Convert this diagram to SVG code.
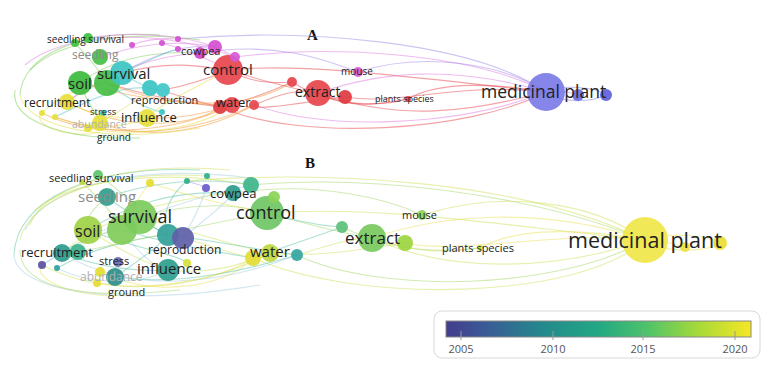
<svg xmlns="http://www.w3.org/2000/svg" width="774" height="373" viewBox="0 0 774 373">
<defs>
<linearGradient id="vir" x1="0" x2="1" y1="0" y2="0">
<stop offset="0" stop-color="#433c8c"/>
<stop offset="0.12" stop-color="#3b5896"/>
<stop offset="0.32" stop-color="#238a8c"/>
<stop offset="0.5" stop-color="#22a884"/>
<stop offset="0.66" stop-color="#4fc36a"/>
<stop offset="0.82" stop-color="#a3d93a"/>
<stop offset="1" stop-color="#f7e723"/>
</linearGradient>
</defs>
<style>
text{font-family:"Open Sans","Noto Sans","DejaVu Sans",sans-serif;fill:#222}
.t{font-family:"Liberation Serif","Times New Roman",serif;font-weight:bold;font-size:15px;fill:#111}
.g{fill:#8a8a8a}
.lg{fill:#b0b0b0}
.e path{fill:none;stroke-width:1.1;opacity:0.5}
.r{stroke:#e8484f}.p{stroke:#e079e0}.v{stroke:#a48ae8}.o{stroke:#f39a3a}.y{stroke:#e5e04a}.gr{stroke:#7fd05a}.c{stroke:#55c8c0}.b{stroke:#7b7be8}
.yg{stroke:#cfe25a}.lm{stroke:#a6d86a}.tl{stroke:#5cc6a8}.lb{stroke:#a9cfe6}.yy{stroke:#ece25a}
circle{opacity:0.92}
.lab{font-size:11px;fill:#555}
</style>
<rect width="774" height="373" fill="#fff"/>
<text class="t" x="307" y="40">A</text>
<text class="t" x="305" y="168">B</text>
<g id="connectors-A" class="e">
<path class="v" d="M178,39 C300,28 470,40 546,92"/>
<path class="p" d="M235,57 C330,45 470,52 546,92"/>
<path class="v" d="M358,72 C420,52 500,62 546,92"/>
<path class="r" d="M228,70 C300,62 420,78 546,92"/>
<path class="p" d="M318,93 C380,72 450,64 546,92"/>
<path class="r" d="M318,93 C400,122 470,112 546,92"/>
<path class="r" d="M345,97 C400,106 450,82 546,92"/>
<path class="p" d="M254,105 C330,132 460,126 546,92"/>
<path class="r" d="M220,107 C300,142 470,132 546,92"/>
<path class="r" d="M408,99 C440,80 500,84 546,92"/>
<path class="r" d="M292,82 C340,112 390,104 408,99"/>
<path class="r" d="M318,93 C350,110 380,104 408,99"/>
<path class="v" d="M200,53 C280,40 330,62 358,72"/>
<path class="r" d="M228,70 C280,86 300,90 318,93"/>
<path class="r" d="M254,105 C280,94 300,88 318,93"/>
<path class="r" d="M232,105 C270,112 310,100 345,97"/>
<path class="r" d="M228,70 C250,82 270,84 292,82"/>
<path class="r" d="M220,107 C250,100 270,92 292,82"/>
<path class="b" d="M546,92 C562,84 596,87 606,95"/>
<path class="b" d="M546,92 C562,104 592,102 606,95"/>
<path class="b" d="M546,92 C560,90 570,92 578,95"/>
<path class="o" d="M42,113 C100,142 180,130 232,105"/>
<path class="o" d="M67,102 C130,135 200,124 220,107"/>
<path class="o" d="M100,123 C150,142 210,130 254,105"/>
<path class="o" d="M147,118 C180,120 210,112 232,105"/>
<path class="r" d="M122,73 C170,60 200,66 228,70"/>
<path class="r" d="M107,83 C160,100 200,104 220,107"/>
<path class="y" d="M42,113 C30,125 70,140 100,132"/>
<path class="y" d="M55,117 C80,128 120,130 147,118"/>
<path class="y" d="M67,102 C90,115 120,120 147,118"/>
<path class="y" d="M20,95 C25,125 100,145 200,128"/>
<path class="gr" d="M20,95 C22,55 80,30 160,35"/>
<path class="gr" d="M75,43 C90,60 100,70 107,83"/>
<path class="gr" d="M80,83 C110,60 150,50 200,53"/>
<path class="gr" d="M30,70 C60,40 130,30 200,40"/>
<path class="c" d="M122,73 C135,82 145,86 150,88"/>
<path class="c" d="M107,83 C130,100 150,110 162,112"/>
<path class="p" d="M132,45 C150,38 165,38 178,39"/>
<path class="p" d="M100,57 C150,40 190,42 215,47"/>
<path class="p" d="M162,43 C190,50 210,60 228,70"/>
<path class="p" d="M88,38 C140,30 200,35 235,57"/>
<path class="v" d="M122,73 C170,45 200,45 215,47"/>
<path class="r" d="M150,88 C180,95 200,103 220,107"/>
<path class="o" d="M80,83 C140,100 190,105 232,105"/>
<path class="gr" d="M67,102 C80,92 90,86 107,83"/>
<path class="c" d="M55,117 C90,100 120,85 150,88"/>
<path class="y" d="M100,123 C120,110 140,100 150,88"/>
<path class="gr" d="M80,83 C90,110 100,118 100,123"/>
<path class="y" d="M42,113 C60,95 85,85 107,83"/>
<path class="o" d="M55,117 C120,140 190,135 254,105"/>
<path class="p" d="M67,102 C110,70 160,55 200,53"/>
<path class="c" d="M122,73 C150,60 170,50 178,49"/>
<path class="r" d="M163,90 C190,85 210,78 228,70"/>
<path class="y" d="M147,118 C160,105 180,95 228,70"/>
<path class="gr" d="M15,90 C10,120 60,140 140,138"/>
<path class="p" d="M25,65 C60,35 150,25 235,57"/>
<path class="o" d="M107,83 C170,110 250,110 292,82"/>
<path class="y" d="M88,128 C130,138 200,130 232,105"/>
</g>
<g id="connectors-B" class="e">
<path class="yg" d="M187,181 C330,170 520,180 645,240"/>
<path class="lm" d="M251,185 C360,175 520,190 645,240"/>
<path class="yg" d="M422,215 C500,190 590,200 645,240"/>
<path class="yg" d="M267,213 C380,205 500,225 645,240"/>
<path class="yy" d="M372,238 C440,215 540,205 645,240"/>
<path class="yg" d="M372,238 C450,275 560,270 645,240"/>
<path class="yy" d="M405,243 C460,255 560,230 645,240"/>
<path class="lm" d="M297,255 C380,295 560,290 645,240"/>
<path class="yg" d="M253,258 C360,305 580,300 645,240"/>
<path class="yy" d="M480,248 C520,225 590,230 645,240"/>
<path class="lm" d="M342,227 C400,255 450,252 480,248"/>
<path class="yg" d="M372,238 C420,255 450,252 480,248"/>
<path class="lm" d="M233,193 C320,180 390,200 422,215"/>
<path class="lm" d="M267,213 C310,225 340,233 372,238"/>
<path class="yg" d="M297,255 C330,245 350,238 372,238"/>
<path class="yg" d="M270,253 C320,258 370,248 405,243"/>
<path class="tl" d="M267,213 C300,222 320,226 342,227"/>
<path class="tl" d="M253,258 C290,245 320,235 342,227"/>
<path class="yy" d="M645,240 C665,232 708,235 720,243"/>
<path class="yy" d="M645,240 C665,254 706,252 720,243"/>
<path class="yy" d="M645,240 C660,240 675,244 685,247"/>
<path class="yg" d="M42,265 C110,300 200,290 270,253"/>
<path class="lb" d="M62,253 C130,295 220,285 297,255"/>
<path class="yy" d="M100,272 C160,300 230,285 253,258"/>
<path class="yg" d="M168,270 C210,275 240,265 270,253"/>
<path class="lm" d="M140,217 C200,200 240,205 267,213"/>
<path class="tl" d="M122,230 C190,250 240,255 253,258"/>
<path class="yy" d="M42,265 C30,280 80,300 130,295"/>
<path class="lb" d="M57,268 C90,285 140,285 168,270"/>
<path class="tl" d="M62,253 C100,268 140,272 168,270"/>
<path class="lb" d="M14,255 C16,292 120,308 260,285"/>
<path class="tl" d="M14,255 C16,200 90,165 200,170"/>
<path class="lb" d="M25,230 C50,180 150,165 250,178"/>
<path class="lm" d="M82,182 C100,200 115,215 122,230"/>
<path class="tl" d="M88,230 C130,205 170,190 233,193"/>
<path class="yg" d="M35,210 C70,180 160,168 252,185"/>
<path class="tl" d="M140,217 C150,225 160,232 168,235"/>
<path class="lb" d="M122,230 C140,255 155,268 168,270"/>
<path class="v" d="M186,181 C200,185 205,186 206,188"/>
<path class="tl" d="M107,197 C160,180 210,178 251,185"/>
<path class="lb" d="M183,238 C210,215 230,200 233,193"/>
<path class="yy" d="M150,183 C200,200 240,208 267,213"/>
<path class="yg" d="M183,238 C210,245 235,255 253,258"/>
<path class="tl" d="M88,230 C140,250 180,255 187,263"/>
<path class="lm" d="M62,253 C80,240 100,233 122,230"/>
<path class="tl" d="M57,268 C90,250 130,238 168,235"/>
<path class="yg" d="M20,240 C30,195 110,170 207,176"/>
<path class="lm" d="M20,250 C20,290 90,300 180,290"/>
<path class="tl" d="M107,197 C130,215 155,228 168,235"/>
<path class="yg" d="M88,230 C120,250 150,265 168,270"/>
<path class="lb" d="M42,265 C80,240 110,225 140,217"/>
<path class="tl" d="M115,277 C140,260 160,245 168,235"/>
<path class="lm" d="M98,175 C120,190 135,205 140,217"/>
<path class="yy" d="M150,183 C140,195 128,215 122,230"/>
<path class="tl" d="M187,181 C170,195 160,215 168,235"/>
<path class="lb" d="M206,188 C200,210 190,225 183,238"/>
<path class="yg" d="M62,253 C100,220 160,200 233,193"/>
<path class="lm" d="M78,252 C140,240 200,225 267,213"/>
<path class="tl" d="M115,277 C170,285 230,275 297,255"/>
<path class="yy" d="M97,283 C150,292 220,280 253,258"/>
<path class="lb" d="M42,265 C100,230 180,200 251,185"/>
<path class="yg" d="M140,217 C200,235 250,250 270,253"/>
<path class="tl" d="M168,235 C210,240 260,250 297,255"/>
<path class="lm" d="M107,197 C90,210 82,225 88,230"/>
<path class="yg" d="M30,225 C40,190 120,160 230,170"/>
</g>
<g id="a-medicinal-plant"><circle cx="546" cy="92" r="19" fill="#7b7be8"/><circle cx="578" cy="95" r="6" fill="#6b6be0"/><circle cx="606" cy="95" r="6" fill="#5f5fdc"/><text x="481" y="98" font-size="17.5">medicinal plant</text></g>
<g id="a-extract"><circle cx="318" cy="93" r="13" fill="#e6454c"/><circle cx="345" cy="97" r="7" fill="#e03a40"/><circle cx="292" cy="82" r="5" fill="#e6454c"/><text x="295" y="97" font-size="14">extract</text></g>
<g id="a-control"><circle cx="228" cy="70" r="15" fill="#e6454c"/><text x="203" y="75" font-size="15">control</text></g>
<g id="a-cowpea"><circle cx="200" cy="53" r="6" fill="#cc44cc"/><circle cx="215" cy="47" r="7" fill="#d24fd2"/><circle cx="235" cy="57" r="5" fill="#d65ad6"/><text x="181" y="55" font-size="11">cowpea</text></g>
<g id="a-water"><circle cx="220" cy="107" r="7" fill="#e03a40"/><circle cx="232" cy="105" r="8" fill="#e6454c"/><circle cx="254" cy="105" r="5" fill="#e6454c"/><text x="216" y="107" font-size="13">water</text></g>
<g id="a-mouse"><circle cx="358" cy="72" r="5" fill="#d65ad6"/><text x="341" y="75" font-size="10">mouse</text></g>
<g id="a-plants-species"><circle cx="408" cy="99" r="3" fill="#e6454c"/><text x="375" y="102" font-size="9">plants species</text></g>
<g id="a-magenta-small"><circle cx="132" cy="45" r="3" fill="#d24fd2"/><circle cx="162" cy="43" r="3" fill="#d24fd2"/><circle cx="178" cy="39" r="3" fill="#d24fd2"/><circle cx="178" cy="49" r="3" fill="#d24fd2"/></g>
<g id="a-seedling-survival"><circle cx="88" cy="38" r="5" fill="#3fc03f"/><circle cx="75" cy="43" r="4" fill="#3fc03f"/><text x="47" y="43" font-size="10">seedling survival</text></g>
<g id="a-seedling"><circle cx="100" cy="57" r="8" fill="#44c044"/><text class="g" x="72" y="59" font-size="12">seedling</text></g>
<g id="a-soil"><circle cx="80" cy="83" r="12" fill="#3dbb3d"/><text x="68" y="89" font-size="15">soil</text></g>
<g id="a-survival"><circle cx="107" cy="83" r="13" fill="#45bd45"/><circle cx="122" cy="73" r="12" fill="#3cc4c4"/><text x="97" y="79" font-size="15">survival</text></g>
<g id="a-reproduction"><circle cx="150" cy="88" r="8" fill="#3cc4c4"/><circle cx="163" cy="90" r="7" fill="#40c8c8"/><text x="131" y="104" font-size="11">reproduction</text></g>
<g id="a-recruitment"><circle cx="67" cy="102" r="8" fill="#e6e03a"/><circle cx="42" cy="113" r="3" fill="#e6e03a"/><circle cx="55" cy="117" r="3" fill="#e6e03a"/><text x="24" y="107" font-size="12">recruitment</text></g>
<g id="a-influence"><circle cx="147" cy="118" r="9" fill="#e6e03a"/><circle cx="162" cy="112" r="3" fill="#3cc4c4"/><text x="121" y="122" font-size="13">influence</text></g>
<g id="a-stress"><circle cx="103" cy="113" r="3" fill="#3cc4c4"/><text x="90" y="115" font-size="9.5">stress</text></g>
<g id="a-abundance"><circle cx="100" cy="123" r="8" fill="#e6e03a"/><circle cx="88" cy="128" r="4" fill="#e6e03a"/><text class="lg" x="72" y="128" font-size="10.5">abundance</text></g>
<g id="a-ground"><text x="97" y="141" font-size="10">ground</text></g>
<g id="b-medicinal-plant"><circle cx="645" cy="240" r="23" fill="#f0e64a"/><circle cx="685" cy="247" r="5" fill="#eee040"/><circle cx="720" cy="243" r="7" fill="#ebdd35"/><text x="568" y="248" font-size="21.5">medicinal plant</text></g>
<g id="b-extract"><circle cx="372" cy="238" r="14" fill="#78ca5e"/><circle cx="405" cy="243" r="8" fill="#9bd540"/><circle cx="342" cy="227" r="6" fill="#5cc178"/><text x="345" y="244" font-size="17">extract</text></g>
<g id="b-mouse"><circle cx="422" cy="215" r="5" fill="#8ed656"/><text x="402" y="219" font-size="11">mouse</text></g>
<g id="b-plants-species"><circle cx="480" cy="248" r="3" fill="#c8df3a"/><text x="442" y="252" font-size="11">plants species</text></g>
<g id="b-control"><circle cx="267" cy="213" r="17" fill="#6ec664"/><circle cx="251" cy="185" r="8" fill="#3db58a"/><circle cx="274" cy="197" r="6" fill="#8cd456"/><text x="236" y="219" font-size="18">control</text></g>
<g id="b-cowpea"><circle cx="233" cy="193" r="8" fill="#2e9a8e"/><circle cx="206" cy="188" r="4" fill="#6a5acd"/><text x="210" y="198" font-size="13">cowpea</text></g>
<g id="b-water"><circle cx="253" cy="258" r="8" fill="#e3dc35"/><circle cx="270" cy="253" r="9" fill="#c0d840"/><circle cx="297" cy="255" r="6" fill="#33a5a0"/><text x="250" y="257" font-size="15">water</text></g>
<g id="b-small-top"><circle cx="187" cy="181" r="3" fill="#2fae8a"/><circle cx="207" cy="176" r="3" fill="#2fae8a"/></g>
<g id="b-seedling-survival"><circle cx="98" cy="175" r="5" fill="#5cc46a"/><circle cx="82" cy="182" r="3" fill="#b5d83a"/><circle cx="150" cy="183" r="4" fill="#e8dc30"/><text x="49" y="182" font-size="11">seedling survival</text></g>
<g id="b-seedling"><circle cx="107" cy="197" r="9" fill="#2fa08c"/><text class="g" x="78" y="202" font-size="15">seedling</text></g>
<g id="b-soil"><circle cx="88" cy="230" r="14" fill="#9fd145"/><text x="75" y="237" font-size="16">soil</text></g>
<g id="b-survival"><circle cx="122" cy="230" r="15" fill="#80cc5a"/><circle cx="140" cy="217" r="17" fill="#7dcb5c"/><text x="108" y="223" font-size="18">survival</text></g>
<g id="b-reproduction"><circle cx="168" cy="235" r="11" fill="#33a19a"/><circle cx="183" cy="238" r="11" fill="#5e5fa8"/><text x="148" y="254" font-size="12">reproduction</text></g>
<g id="b-recruitment"><circle cx="62" cy="253" r="9" fill="#2b9a8c"/><circle cx="78" cy="252" r="8" fill="#3ab289"/><circle cx="42" cy="265" r="4" fill="#5a4fa0"/><circle cx="57" cy="268" r="3" fill="#2f9fa0"/><text x="21" y="257" font-size="13">recruitment</text></g>
<g id="b-influence"><circle cx="168" cy="270" r="11" fill="#2e9e8e"/><circle cx="187" cy="263" r="4" fill="#d7df3a"/><text x="137" y="274" font-size="15">influence</text></g>
<g id="b-stress"><circle cx="118" cy="262" r="5" fill="#6a6ab0"/><text x="99" y="265" font-size="11">stress</text></g>
<g id="b-abundance"><circle cx="115" cy="277" r="9" fill="#2a8e8a"/><circle cx="100" cy="272" r="5" fill="#e5dc30"/><circle cx="97" cy="283" r="4" fill="#e5dc30"/><text class="lg" x="80" y="281" font-size="12">abundance</text></g>
<g id="b-ground"><text x="108" y="296" font-size="11">ground</text></g>
<g id="legend">
<rect x="434" y="311" width="326" height="47" rx="8" fill="#fff" stroke="#d8d8d8"/>
<rect x="446" y="321" width="305" height="16" fill="url(#vir)" stroke="#888"/>
<g stroke="#999" stroke-width="1"><line x1="461" y1="331" x2="461" y2="340"/><line x1="553" y1="331" x2="553" y2="340"/><line x1="643" y1="331" x2="643" y2="340"/><line x1="735" y1="331" x2="735" y2="340"/></g>
<text class="lab" x="461" y="353" text-anchor="middle">2005</text>
<text class="lab" x="553" y="353" text-anchor="middle">2010</text>
<text class="lab" x="643" y="353" text-anchor="middle">2015</text>
<text class="lab" x="735" y="353" text-anchor="middle">2020</text>
</g>
</svg>
